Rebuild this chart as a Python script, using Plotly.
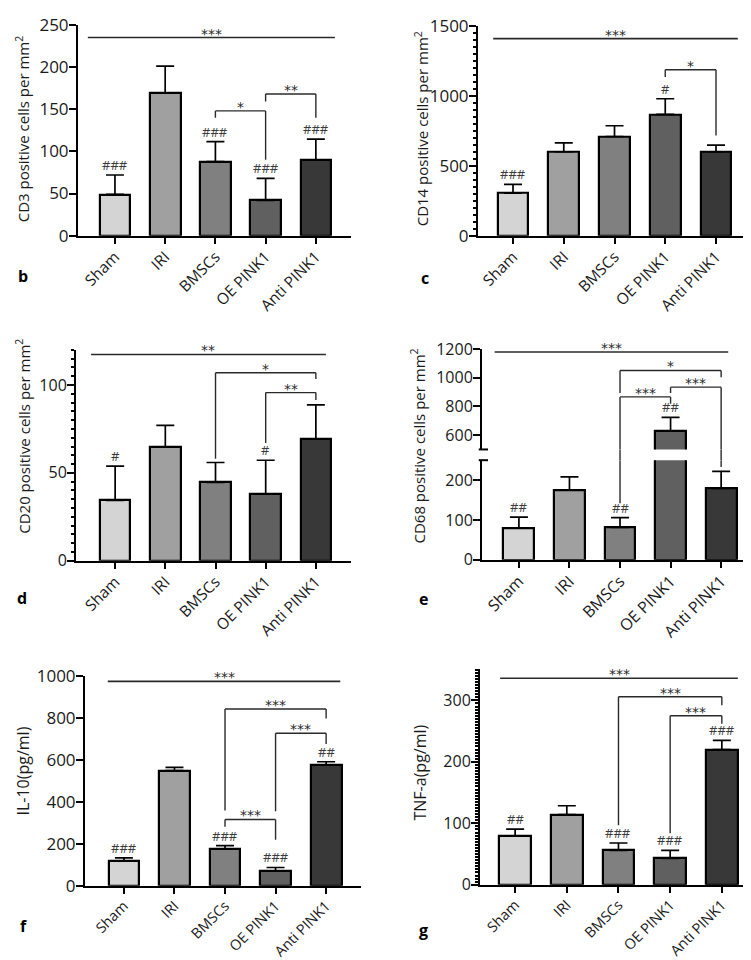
import plotly.graph_objects as go

W, H = 751, 960

cats = ["Sham", "IRI", "BMSCs", "OE PINK1", "Anti PINK1"]
bar_colors = ["#d4d4d4", "#a0a0a0", "#808080", "#606060", "#383838"]

# ---- data (mean and upper SD) ----
cd3_mean = [49, 169, 88, 42, 90]
cd3_sd = [23, 32, 23.5, 26, 24.5]
cd14_mean = [305, 600, 709, 867, 600]
cd14_sd = [62, 63, 77, 112, 47]
cd20_mean = [34.4, 64.6, 44.6, 38, 69.4]
cd20_sd = [19.5, 12.4, 11.3, 19.2, 19.3]
cd68_mean = [80, 175, 81, 627, 179]
cd68_sd = [27, 33, 25, 96, 43]
il10_mean = [118, 549, 175, 71, 575]
il10_sd = [15, 15, 16, 16, 16]
tnf_mean = [79, 114, 56, 43, 220]
tnf_sd = [11.5, 14.6, 12, 13, 15]

# marks vs IRI
cd3_hash = ["###", "", "###", "###", "###"]
cd14_hash = ["###", "", "", "#", ""]
cd20_hash = ["#", "", "", "#", ""]
cd68_hash = ["##", "", "##", "##", ""]
il10_hash = ["###", "", "###", "###", "##"]
tnf_hash = ["##", "", "###", "###", "###"]

# brackets: (left group, right group, bracket level, left leg end, right leg end, label)
cd3_brackets = [(2, 3, 148, 140, 90, "*"), (3, 4, 168, 159, 140, "**")]
cd14_brackets = [(3, 4, 1186, 1135, 716, "*")]
cd20_brackets = [(2, 4, 107, 58, 103.5, "*"), (3, 4, 95.7, 67, 91.5, "**")]
cd68_brackets = [(2, 4, 1050, 893, 1002, "*"), (3, 4, 934, 893, 233, "***"),
                 (2, 3, 866, 142, 818, "***")]
il10_brackets = [(2, 4, 842, 358, 797, "***"), (3, 4, 727, 355, 676, "***"),
                 (2, 3, 316, 281, 219, "***")]
tnf_brackets = [(2, 4, 306, 97, 292, "***"), (3, 4, 275, 84, 262, "***")]

# overall (ANOVA) line level and label
cd3_overall = (235, "***")
cd14_overall = (1409, "***")
cd20_overall = (117.4, "**")
cd68_overall = (1179, "***")
il10_overall = (974, "***")
tnf_overall = (336, "***")

fig = go.Figure()

def px_x(p):
    return p / W

def px_y(p):
    return 1 - p / H

LINE_C = "#2a2a2a"
TXT_C = "#1a1a1a"
shapes = []
annotations = []

def axis_common():
    return dict(showline=True, linewidth=2, linecolor="black", showgrid=False,
                zeroline=False, ticks="outside", tickwidth=2, tickcolor="black")

panels = [
    dict(name="b", ax="", mean=cd3_mean, sd=cd3_sd, hashes=cd3_hash, br=cd3_brackets,
         overall=cd3_overall, xdom=(70, 343), xr=(-0.736, 4.70), ydom=(5, 221), yr=(0, 250),
         tickvals=[0, 50, 100, 150, 200, 250], minor=None, tfs=17, cfs=15.5,
         line_x=(-0.54, 4.38), title="CD3 positive cells per mm<sup>2</sup>",
         title_pos=(14, 112), letter_pos=(15, 262)),
    dict(name="c", ax="2", mean=cd14_mean, sd=cd14_sd, hashes=cd14_hash, br=cd14_brackets,
         overall=cd14_overall, xdom=(470, 742), xr=(-0.69, 4.67), ydom=(6, 221), yr=(0, 1500),
         tickvals=[0, 500, 1000, 1500], minor=50, tfs=17, cfs=15.5,
         line_x=(-0.39, 4.43), title="CD14 positive cells per mm<sup>2</sup>",
         title_pos=(413, 112), letter_pos=(417, 264)),
    dict(name="d", ax="3", mean=cd20_mean, sd=cd20_sd, hashes=cd20_hash, br=cd20_brackets,
         overall=cd20_overall, xdom=(68, 343), xr=(-0.78, 4.70), ydom=(338, 554), yr=(0, 120),
         tickvals=[0, 50, 100], minor=5, tfs=16, cfs=15.5,
         line_x=(-0.48, 4.2), title="CD20 positive cells per mm<sup>2</sup>",
         title_pos=(15, 427), letter_pos=(14, 592)),
    dict(name="f", ax="5", mean=il10_mean, sd=il10_sd, hashes=il10_hash, br=il10_brackets,
         overall=il10_overall, xdom=(77, 353), xr=(-0.77, 4.69), ydom=(672, 887), yr=(0, 1000),
         tickvals=[0, 200, 400, 600, 800, 1000], minor=None, tfs=17, cfs=14.5,
         line_x=(-0.32, 4.28), title="IL-10(pg/ml)",
         title_pos=(15, 770), letter_pos=(15, 928)),
    dict(name="g", ax="6", mean=tnf_mean, sd=tnf_sd, hashes=tnf_hash, br=tnf_brackets,
         overall=tnf_overall, xdom=(472, 750), xr=(-0.68, 4.70), ydom=(665, 886), yr=(0, 351),
         tickvals=[0, 100, 200, 300], minor=5, tfs=16, cfs=14.5,
         line_x=(-0.29, 4.31), title="TNF-a(pg/ml)",
         title_pos=(412, 771), letter_pos=(415, 932)),
]

BAR_W = 0.61
ERR_W = 9
FONT = "Open Sans"

def add_bars(xa, ya, mean, sd):
    fig.add_trace(go.Bar(
        x=cats, y=mean, xaxis="x" + xa, yaxis="y" + ya, width=BAR_W,
        marker=dict(color=bar_colors, line=dict(color="black", width=2.2)),
        error_y=dict(type="data", symmetric=False, array=sd, arrayminus=[0] * len(sd),
                     color="black", thickness=1.7, width=ERR_W),
        showlegend=False, hoverinfo="skip"))

def vline(xa, ya, x, y0, y1):
    shapes.append(dict(type="line", xref="x" + xa, yref="y" + ya, x0=x, x1=x, y0=y0, y1=y1,
                       line=dict(color=LINE_C, width=1.4)))

def hline(xa, ya, x0, x1, y, w=1.4):
    shapes.append(dict(type="line", xref="x" + xa, yref="y" + ya, x0=x0, x1=x1, y0=y, y1=y,
                       line=dict(color=LINE_C, width=w)))

def star(xa, ya, x, y, txt):
    annotations.append(dict(xref="x" + xa, yref="y" + ya, x=x, y=y, text=txt, showarrow=False,
                            yanchor="bottom", yshift=-6,
                            font=dict(family="DejaVu Sans", size=14, color=LINE_C)))

def hashmark(xa, ya, x, y, txt):
    if txt:
        annotations.append(dict(xref="x" + xa, yref="y" + ya, x=x, y=y, text=txt, showarrow=False,
                                yanchor="bottom", yshift=-1,
                                font=dict(family=FONT, size=13, color="#3a3a3a")))

def letter(pos, txt):
    annotations.append(dict(xref="paper", yref="paper", x=px_x(pos[0]), y=px_y(pos[1]), text="<b>%s</b>" % txt,
                            showarrow=False, xanchor="center", yanchor="middle",
                            font=dict(family=FONT, size=16, color="black")))

def ytitle(pos, txt, size=15):
    annotations.append(dict(xref="paper", yref="paper", x=px_x(pos[0]), y=px_y(pos[1]), text=txt,
                            showarrow=False, textangle=-90, xanchor="center", yanchor="middle",
                            font=dict(family=FONT, size=size, color=TXT_C)))

layout_axes = {}

for p in panels:
    a = p["ax"]
    add_bars(a, a, p["mean"], p["sd"])
    xk = "xaxis" + a
    yk = "yaxis" + a
    xa = axis_common()
    xa.update(domain=[px_x(p["xdom"][0]), px_x(p["xdom"][1])], range=list(p["xr"]),
              anchor="y" + a, ticklen=6, tickangle=-45, type="category", ticklabelstandoff=-2,
              tickfont=dict(family=FONT, size=p["cfs"], color=TXT_C))
    ya = axis_common()
    ya.update(domain=[px_y(p["ydom"][1]), px_y(p["ydom"][0])], range=list(p["yr"]),
              anchor="x" + a, ticklen=7, tickvals=p["tickvals"], ticklabelstandoff=-3,
              tickfont=dict(family=FONT, size=p["tfs"], color=TXT_C))
    if p["minor"]:
        ya["minor"] = dict(dtick=p["minor"], ticklen=3.5, tickwidth=1.5, tickcolor="black",
                           ticks="outside", tick0=0)
    layout_axes[xk] = xa
    layout_axes[yk] = ya
    lvl, lab = p["overall"]
    hline(a, a, p["line_x"][0], p["line_x"][1], lvl, 1.6)
    star(a, a, (p["line_x"][0] + p["line_x"][1]) / 2, lvl, lab)
    for (i, j, h, e1, e2, lab) in p["br"]:
        hline(a, a, i, j, h)
        vline(a, a, i, h, e1)
        vline(a, a, j, h, e2)
        star(a, a, (i + j) / 2, h, lab)
    for i, t in enumerate(p["hashes"]):
        hashmark(a, a, i, p["mean"][i] + p["sd"][i], t)
    ytitle(p["title_pos"], p["title"], 16 if "pg" in p["title"] else 15)
    letter(p["letter_pos"], p["name"])

# ---- panel e (broken y axis) ----
E_LOW = (0, 250)
E_HIGH = (500, 1200)
e_xdom = (474, 747)
e_low_dom = (451, 553)
e_high_dom = (337, 440)
add_bars("4", "4", cd68_mean, cd68_sd)
add_bars("4", "7", cd68_mean, cd68_sd)
xa = axis_common()
xa.update(domain=[px_x(e_xdom[0]), px_x(e_xdom[1])], range=[-0.73, 4.67], anchor="y4",
          ticklen=6, tickangle=-45, type="category", ticklabelstandoff=-2,
          tickfont=dict(family=FONT, size=16, color=TXT_C))
layout_axes["xaxis4"] = xa
ya = axis_common()
ya.update(domain=[px_y(e_low_dom[1]), px_y(e_low_dom[0])], range=list(E_LOW), anchor="x4",
          ticklen=7, tickvals=[0, 100, 200], ticklabelstandoff=-3,
          tickfont=dict(family=FONT, size=16, color=TXT_C))
layout_axes["yaxis4"] = ya
ya = axis_common()
ya.update(domain=[px_y(e_high_dom[1]), px_y(e_high_dom[0])], range=list(E_HIGH), anchor="x4",
          ticklen=7, tickvals=[600, 800, 1000, 1200], ticklabelstandoff=-3,
          tickfont=dict(family=FONT, size=16, color=TXT_C))
layout_axes["yaxis7"] = ya

# break caps on the y axis
for yref, yv in (("y4 domain", 1), ("y7 domain", 0)):
    shapes.append(dict(type="line", xref="x4 domain", yref=yref, x0=-0.012, x1=0.022, y0=yv, y1=yv,
                       line=dict(color="black", width=2)))

lvl, lab = cd68_overall
hline("4", "7", -0.48, 4.14, lvl, 1.6)
star("4", "7", (-0.48 + 4.14) / 2, lvl, lab)

def e_leg(x, top, bottom):
    if bottom >= E_HIGH[0]:
        vline("4", "7", x, top, bottom)
    else:
        vline("4", "7", x, top, E_HIGH[0])
        shapes.append(dict(type="line", xref="x4", yref="paper", x0=x, x1=x,
                           y0=px_y(e_low_dom[0]), y1=px_y(e_high_dom[1]),
                           line=dict(color=LINE_C, width=1.4)))
        vline("4", "4", x, E_LOW[1], bottom)

for (i, j, h, e1, e2, lab) in cd68_brackets:
    hline("4", "7", i, j, h)
    e_leg(i, h, e1)
    e_leg(j, h, e2)
    star("4", "7", (i + j) / 2, h, lab)
for i, t in enumerate(cd68_hash):
    v = cd68_mean[i] + cd68_sd[i]
    hashmark("4", "7" if v > E_LOW[1] else "4", i, v, t)
ytitle((410, 437), "CD68 positive cells per mm<sup>2</sup>", 15)
letter((415, 593), "e")

fig.update_layout(width=W, height=H, margin=dict(l=0, r=0, t=0, b=0), autosize=False,
                  paper_bgcolor="white", plot_bgcolor="white", shapes=shapes,
                  annotations=annotations, bargap=0, font=dict(family=FONT),
                  **layout_axes)

fig.write_html("out.html")
